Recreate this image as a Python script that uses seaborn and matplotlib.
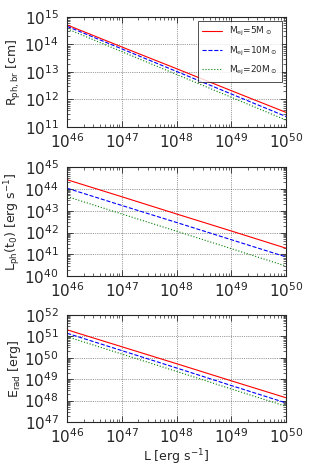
import numpy as np
import pandas as pd
import seaborn as sns
import matplotlib.pyplot as plt
from matplotlib.ticker import LogLocator, NullFormatter

# luminosity grid (erg/s)
L = [1e46, 1e47, 1e48, 1e49, 1e50]
masses = ["5", "10", "20"]

# log10 values at each L
R_ph = {"5": [14.71, 13.91, 13.12, 12.32, 11.53],
        "10": [14.66, 13.84, 13.02, 12.20, 11.38],
        "20": [14.57, 13.74, 12.91, 12.08, 11.25]}
L_ph = {"5": [44.42, 43.64, 42.85, 42.07, 41.28],
        "10": [44.03, 43.24, 42.46, 41.67, 40.88],
        "20": [43.65, 42.85, 42.06, 41.26, 40.46]}
E_rad = {"5": [51.30, 50.51, 49.72, 48.92, 48.13],
         "10": [51.14, 50.33, 49.52, 48.70, 47.89],
         "20": [50.98, 50.17, 49.36, 48.54, 47.73]}

sns.set_style("ticks")
plt.rcParams["font.family"] = ["DejaVu Sans"]
plt.rcParams["mathtext.default"] = "regular"

def to_df(d):
    rows = []
    for m in masses:
        for x, v in zip(L, d[m]):
            rows.append({"L": x, "val": 10 ** v, "M": m})
    return pd.DataFrame(rows)

colors = {"5": "red", "10": "blue", "20": "green"}
styles = {"5": "-", "10": "--", "20": ":"}

fig = plt.figure(figsize=(3.15, 4.72), dpi=100)
pos = [[0.213, 0.731, 0.695, 0.233],
       [0.213, 0.415, 0.695, 0.231],
       [0.213, 0.106, 0.695, 0.227]]
panels = [(R_ph, (1e11, 1e15), r"R$_{ph,br}$ [cm]"),
          (L_ph, (1e40, 1e45), r"L$_{ph}$(t$_0$) [erg s$^{-1}$]"),
          (E_rad, (1e47, 1e52), r"E$_{rad}$ [erg]")]

for i, (d, ylim, ylab) in enumerate(panels):
    ax = fig.add_axes(pos[i])
    df = to_df(d)
    for m in masses:
        sub = df[df["M"] == m]
        sns.lineplot(data=sub, x="L", y="val", ax=ax, color=colors[m],
                     linestyle=styles[m], lw=0.8,
                     label=r"M$_{ej}$=%sM$_\odot$" % m)
    ax.set_xscale("log")
    ax.set_yscale("log")
    ax.set_xlim(1e46, 1e50)
    ax.set_ylim(*ylim)
    ax.xaxis.set_major_locator(LogLocator(base=10, numticks=10))
    ax.yaxis.set_major_locator(LogLocator(base=10, numticks=10))
    ax.xaxis.set_minor_locator(LogLocator(base=10, subs=np.arange(2, 10), numticks=20))
    ax.yaxis.set_minor_locator(LogLocator(base=10, subs=np.arange(2, 10), numticks=20))
    ax.yaxis.set_minor_formatter(NullFormatter())
    ax.xaxis.set_minor_formatter(NullFormatter())
    ax.tick_params(which="both", direction="in", top=True, right=True, labelsize=11)
    ax.tick_params(which="major", length=4, width=0.6)
    ax.tick_params(axis="y", which="major", pad=6)
    ax.tick_params(axis="x", which="major", pad=4)
    ax.tick_params(which="minor", length=2, width=0.5)
    ax.grid(True, which="major", color="#444444", linestyle=":", lw=0.5)
    for s in ax.spines.values():
        s.set_linewidth(0.8)
    ax.set_ylabel(ylab, fontsize=9, labelpad=1)
    ax.set_xlabel("")
    if i == 0:
        leg = ax.legend(loc="upper right", fontsize=6.5, frameon=True, fancybox=False,
                        borderpad=0.5, labelspacing=0.7, handlelength=2.2,
                        borderaxespad=0.4)
        leg.get_frame().set_edgecolor("black")
        leg.get_frame().set_linewidth(0.6)
    elif ax.get_legend():
        ax.get_legend().remove()
    if i == 2:
        ax.set_xlabel(r"L [erg s$^{-1}$]", fontsize=9, labelpad=1)

fig.savefig("out.png", dpi=100)
